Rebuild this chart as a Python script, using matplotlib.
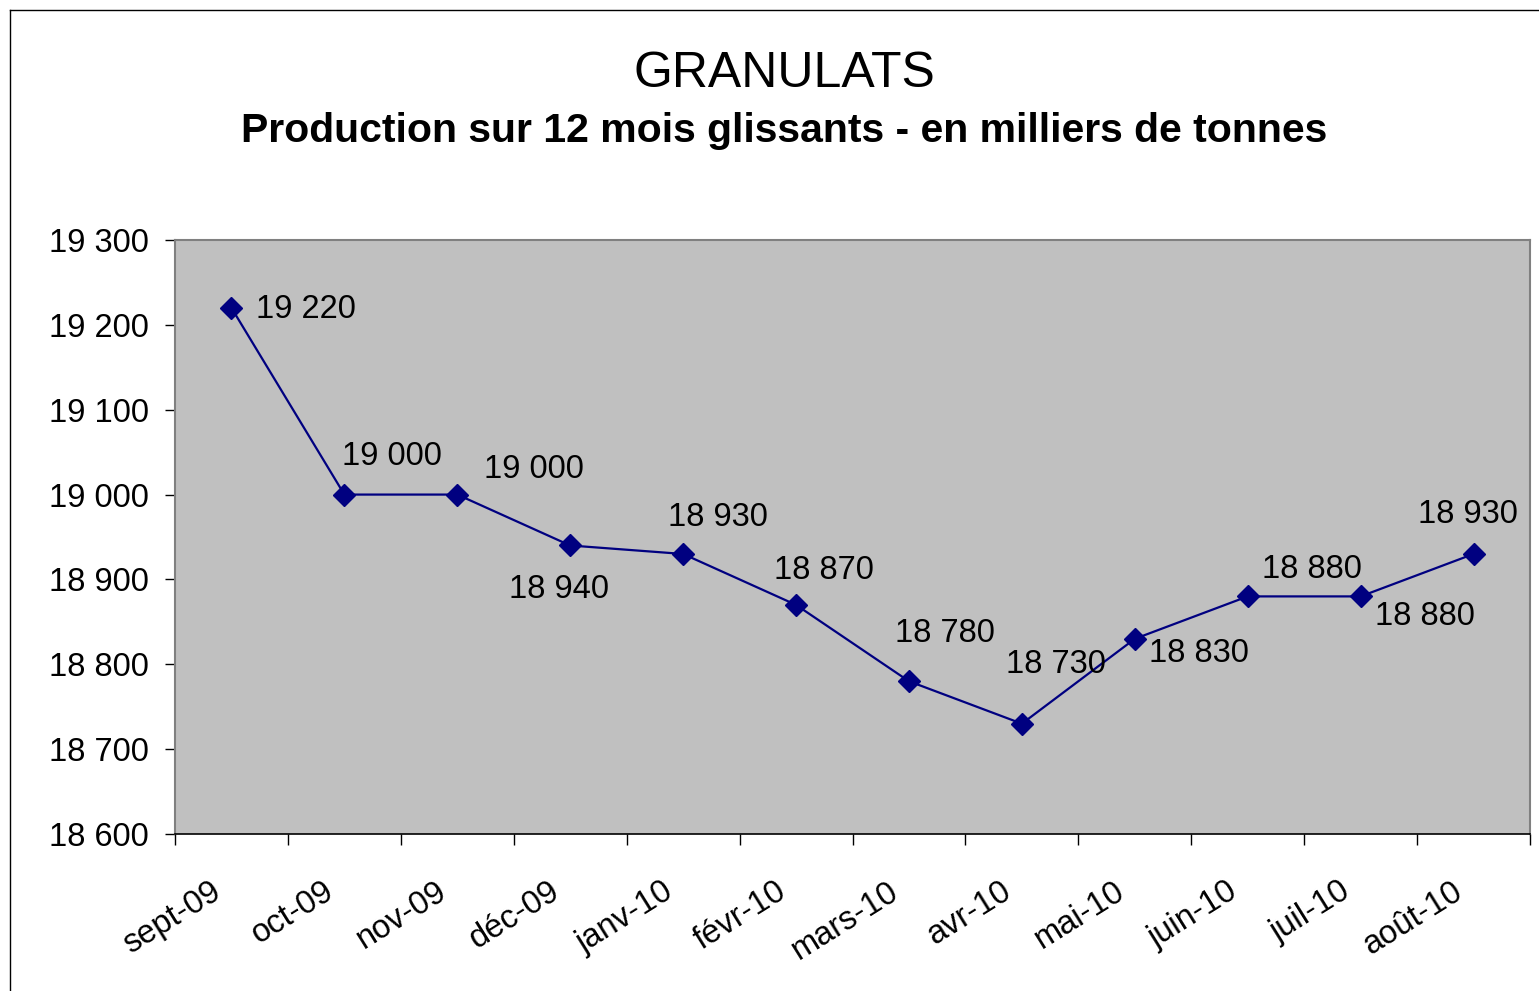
import matplotlib
matplotlib.use("Agg")
import matplotlib.pyplot as plt
from matplotlib.ticker import FuncFormatter, FixedLocator, NullFormatter
from matplotlib.lines import Line2D

plt.rcParams['font.family'] = ['Liberation Sans', 'DejaVu Sans']

# ---- data ----
months = ["sept-09", "oct-09", "nov-09", "déc-09", "janv-10", "févr-10",
          "mars-10", "avr-10", "mai-10", "juin-10", "juil-10", "août-10"]
production = [19220, 19000, 19000, 18940, 18930, 18870,
              18780, 18730, 18830, 18880, 18880, 18930]
y_ticks = [18600, 18700, 18800, 18900, 19000, 19100, 19200, 19300]

title = "GRANULATS"
subtitle = "Production sur 12 mois glissants - en milliers de tonnes"

# label offsets in pixels (dx, dy) -- layout only
label_offsets = [(25, 2), (48, 42), (77, 29), (-11, -41), (35, 40), (28, 38),
                 (36, 51), (34, 63), (64, -11), (64, 30), (64, -17), (-6, 43)]
label_ha = ["left"] + ["center"] * 11

FS = 23.5

fig = plt.figure(figsize=(15.39, 9.91), dpi=100)
ax = fig.add_axes([175/1539, 1 - 834/991, (1530-175)/1539, (834-240)/991])
ax.set_facecolor("#C0C0C0")

x = list(range(len(months)))
ax.plot(x, production, color="#000080", lw=1.6, marker="D", markersize=11,
        markerfacecolor="#000080", markeredgecolor="#000080", zorder=3)

for xi, v, (dx, dy), ha in zip(x, production, label_offsets, label_ha):
    ax.annotate(f"{v:,}".replace(",", " "), (xi, v), xytext=(dx, dy),
                textcoords="offset pixels", ha=ha, va="center_baseline",
                fontsize=FS, color="black", zorder=4)

ax.set_xlim(-0.5, len(months) - 0.5)
ax.set_ylim(18600, 19300)
ax.set_yticks(y_ticks)
ax.yaxis.set_major_formatter(FuncFormatter(lambda v, p: f"{int(v):,}".replace(",", " ")))

# x: tick marks at category boundaries, labels at centers
ax.xaxis.set_major_locator(FixedLocator([i - 0.5 for i in range(len(months) + 1)]))
ax.xaxis.set_major_formatter(NullFormatter())
ax.tick_params(axis="x", which="major", length=8, width=1, color="black", direction="out")
ax.tick_params(axis="y", length=7, width=1, color="black", direction="out",
               labelsize=FS, pad=12)

for xi, m in zip(x, months):
    ax.annotate(m, (xi, 0), xycoords=("data", "axes fraction"),
                xytext=(-13, -55), textcoords="offset pixels",
                rotation=32, ha="right", va="center", rotation_mode="anchor",
                fontsize=FS, annotation_clip=False)

for side in ["top", "right", "left"]:
    ax.spines[side].set_color("#808080")
    ax.spines[side].set_linewidth(1.5)
ax.spines["bottom"].set_color("black")
ax.spines["bottom"].set_linewidth(1.2)

fig.text(784/1539, 1 - 87/991, title, ha="center", va="baseline", fontsize=36)
fig.text(784/1539, 1 - 142/991, subtitle, ha="center", va="baseline",
         fontsize=29.5, fontweight="bold")

# outer chart frame (left and top edges)
fig.add_artist(Line2D([10/1539, 10/1539], [0, 1 - 10/991], transform=fig.transFigure,
                      color="black", lw=1))
fig.add_artist(Line2D([10/1539, 1], [1 - 10/991, 1 - 10/991], transform=fig.transFigure,
                      color="black", lw=1))

fig.savefig("out.png", dpi=100)
